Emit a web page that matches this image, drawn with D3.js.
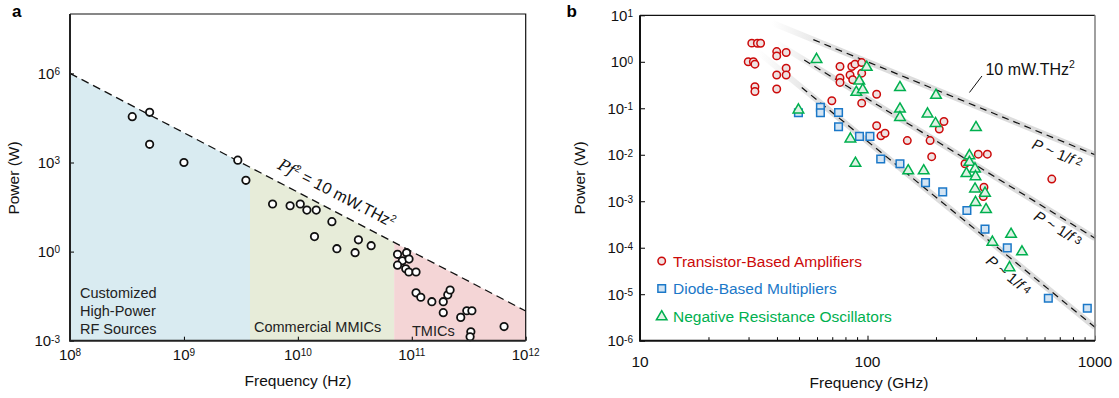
<!DOCTYPE html>
<html>
<head>
<meta charset="utf-8">
<script src="https://cdn.jsdelivr.net/npm/d3@7"></script>
<style>
  body { margin: 0; background: #fff; }
  svg { display: block; font-family: "Liberation Sans", Arial, Helvetica, sans-serif; }
</style>
</head>
<body>
<svg id="chart" width="1119" height="398"></svg>
<script>
// ---------- panel a : frequency (Hz), power (W)
const sourcesA = [
  [3.52e8, 3.5e4], [5.0e8, 4.9e4], [5.0e8, 4.1e3], [1.0e9, 1.0e3], [2.97e9, 1.2e3], [3.5e9, 252],
  [6.0e9, 40], [8.55e9, 35], [1.05e10, 40], [1.2e10, 25], [1.45e10, 25], [1.99e10, 10.2],
  [1.4e10, 3.2], [2.2e10, 1.25], [3.4e10, 2.5], [3.18e10, 0.92], [4.4e10, 1.58],
  [7.5e10, 0.81], [9.0e10, 0.92], [8.26e10, 0.49], [9.46e10, 0.56], [7.5e10, 0.35],
  [8.85e10, 0.265], [9.42e10, 0.206], [1.09e11, 0.206],
  [1.09e11, 0.041], [1.2e11, 0.029], [1.5e11, 0.0206], [1.89e11, 0.0206], [2.07e11, 0.035], [2.17e11, 0.051],
  [1.89e11, 0.0088], [2.69e11, 0.0061], [3.04e11, 0.0102], [3.37e11, 0.0102],
  [3.3e11, 0.002], [3.25e11, 0.00136], [6.46e11, 0.003]
];
const regionEdgesHz = [1e8, 3.8e9, 7e10, 1e12];
const regionColors = ['#d9ebf1', '#e7ecd9', '#f4d5d6'];
const limitA = 1e22;            // P * f^2 = 10 mW.THz^2  (f in Hz)
const xTicksA = [1e8, 1e9, 1e10, 1e11, 1e12];
const yTicksA = [1e6, 1e3, 1e0, 1e-3];

// ---------- panel b : frequency (GHz), power (W)
const amplifiers = [
  [31.0, 2.52], [32.8, 2.5], [33.9, 2.5], [29.9, 1.0], [31.5, 1.0], [32.0, 0.89],
  [32.0, 0.29], [32.0, 0.23], [39.9, 1.66], [39.9, 1.34], [43.9, 1.58], [39.9, 0.52],
  [43.9, 0.73], [43.9, 0.52], [39.9, 0.26], [69.7, 0.145], [75.7, 0.79], [85.3, 0.79],
  [88.1, 0.89], [94.3, 0.96], [75.7, 0.45], [83.8, 0.52], [75.7, 0.36], [86.1, 0.41],
  [94.3, 0.57], [94.3, 0.129], [109.7, 0.2], [109.7, 0.042], [114.6, 0.0255], [119.4, 0.029],
  [149.6, 0.0202], [188.4, 0.0202], [191.5, 0.0091], [216.8, 0.052], [206.8, 0.0356],
  [306.9, 0.0103], [336.3, 0.0103], [268.3, 0.0064], [325, 0.002], [322.9, 0.00126], [645.7, 0.003]
];
const multipliers = [
  [49.7, 0.08], [62.1, 0.105], [62.1, 0.08], [74.6, 0.081], [74.6, 0.04], [92.2, 0.0249],
  [102.5, 0.0249], [114.3, 0.0081], [138.9, 0.0064], [179.9, 0.00252], [214.1, 0.00159],
  [273.5, 0.00063], [328.5, 0.000251], [411.6, 0.0000993], [623.5, 0.0000082], [925, 0.000005]
];
const oscillators = [
  [59.7, 1.17], [49.7, 0.096], [99.2, 0.79], [92.0, 0.4], [89.3, 0.23], [95.3, 0.26],
  [84.1, 0.0228], [88.5, 0.0068], [138.9, 0.29], [200, 0.198], [138.9, 0.1], [138.9, 0.066],
  [183.6, 0.0785], [199, 0.049], [299.8, 0.04], [151, 0.0047], [176.6, 0.0047],
  [280.5, 0.00995], [280.5, 0.00714], [272.2, 0.0041], [296.9, 0.00515], [298.4, 0.00352],
  [296.9, 0.00191], [328.5, 0.00155], [298.4, 0.00098], [331.9, 0.00069],
  [354, 0.000137], [427.6, 0.000202], [477.6, 0.0000848], [421, 0.0000387]
];
// P = coef / f^order, dashes start at dashFrom GHz, grey halo fades in from haloFrom GHz
const refLines = [
  { coef: 1e4, order: 2, dashFrom: 57.8, haloFrom: 38, labelAt: 560, labelOff: 18 },
  { coef: 1.6e5, order: 3, dashFrom: 52.7, haloFrom: 40, labelAt: 580, labelOff: 16 },
  { coef: 1.95e6, order: 4, dashFrom: 51.4, haloFrom: 33, labelAt: 372, labelOff: 19.5 }
];
const seriesNames = ['Transistor-Based Amplifiers', 'Diode-Based Multipliers', 'Negative Resistance Oscillators'];
const seriesStroke = ['#cc0a0a', '#1b78c8', '#00b04f'];
const seriesFill = ['#efe2e2', '#d3e4f3', '#e0f2e5'];
const xTicksB = [10, 100, 1000];
const yTicksB = [1e1, 1e0, 1e-1, 1e-2, 1e-3, 1e-4, 1e-5, 1e-6];

const svg = d3.select('#chart');

const xA = d3.scaleLog().domain([1e8, 1e12]).range([70, 525.7]);
const yA = d3.scaleLog().domain([1e-3, 1e8]).range([340.7, 14]);
const xB = d3.scaleLog().domain([10, 1000]).range([640, 1095]);
const yB = d3.scaleLog().domain([1e-6, 10]).range([340.7, 15.3]);

// "10" with a superscript exponent
function powLabel(g, x, y, exp, anchor) {
  const t = g.append('text').attr('x', x).attr('y', y)
    .attr('text-anchor', anchor).attr('font-size', 15).attr('fill', '#111');
  t.append('tspan').text('10');
  t.append('tspan').attr('font-size', 10).attr('dy', -3.5).text(exp);
  return t;
}

function drawPanelA() {
  const g = svg.append('g');
  const lim = f => Math.min(limitA / (f * f), 1e8);

  // shaded regions under the limit line
  for (let i = 0; i < 3; i++) {
    const f0 = regionEdgesHz[i], f1 = regionEdgesHz[i + 1];
    const pts = [[f0, 1e-3], [f0, lim(f0)], [f1, lim(f1)], [f1, 1e-3]];
    g.append('path')
      .attr('d', d3.line(d => xA(d[0]), d => yA(d[1]))(pts) + 'Z')
      .attr('fill', regionColors[i]);
  }

  g.append('line')
    .attr('x1', xA(1e8)).attr('y1', yA(lim(1e8)))
    .attr('x2', xA(1e12)).attr('y2', yA(lim(1e12)))
    .attr('stroke', '#111').attr('stroke-width', 1.3).attr('stroke-dasharray', '8,5');

  // limit label along the line
  const ang = Math.atan2(yA(lim(1e12)) - yA(lim(1e8)), xA(1e12) - xA(1e8));
  const fl = 5.86e9, off = 11.5;
  const lx = xA(fl) + Math.sin(ang) * off, ly = yA(lim(fl)) - Math.cos(ang) * off;
  const lt = g.append('text')
    .attr('transform', `translate(${lx},${ly}) rotate(${ang * 180 / Math.PI})`)
    .attr('font-size', 16).attr('fill', '#111');
  lt.append('tspan').attr('font-family', '"DejaVu Serif", "Liberation Serif", serif')
    .attr('font-style', 'italic').text('Pf');
  lt.append('tspan').attr('font-size', 10).attr('dy', -6).text('2');
  lt.append('tspan').attr('dy', 6).text(' = 10 mW.THz');
  lt.append('tspan').attr('font-size', 10).attr('dy', -6).text('2');

  // region labels
  const lab = (x, y, s) => g.append('text').attr('x', x).attr('y', y)
    .attr('font-size', 14.5).attr('fill', '#222').text(s);
  lab(80, 298, 'Customized');
  lab(80, 316, 'High-Power');
  lab(80, 334, 'RF Sources');
  lab(254, 332, 'Commercial MMICs');
  lab(412, 335.5, 'TMICs');

  g.append('g').selectAll('circle').data(sourcesA).join('circle')
    .attr('cx', d => xA(d[0])).attr('cy', d => yA(d[1])).attr('r', 3.7)
    .attr('fill', '#fff').attr('stroke', '#111').attr('stroke-width', 1.8);

  // ticks (inward)
  g.append('g').attr('transform', 'translate(0,340.7)')
    .call(d3.axisBottom(xA).tickValues(xTicksA).tickSizeInner(-4).tickSizeOuter(0).tickFormat(''))
    .call(a => a.select('.domain').remove());
  g.append('g').attr('transform', 'translate(70,0)')
    .call(d3.axisLeft(yA).tickValues(yTicksA).tickSizeInner(-4).tickSizeOuter(0).tickFormat(''))
    .call(a => a.select('.domain').remove());

  xTicksA.forEach(v => powLabel(g, xA(v), 359.5, Math.round(Math.log10(v)), 'middle'));
  yTicksA.forEach(v => powLabel(g, 60, yA(v) + 5.3, Math.round(Math.log10(v)), 'end'));

  // frame
  g.append('path').attr('d', 'M70,14H525.7V340.7').attr('fill', 'none').attr('stroke', '#111').attr('stroke-width', 1.2);
  g.append('path').attr('d', 'M70,14V340.7H525.7').attr('fill', 'none').attr('stroke', '#222').attr('stroke-width', 2);

  g.append('text').attr('x', 298).attr('y', 386).attr('text-anchor', 'middle')
    .attr('font-size', 15.5).attr('fill', '#111').text('Frequency (Hz)');
  g.append('text').attr('transform', 'translate(19,178) rotate(-90)').attr('text-anchor', 'middle')
    .attr('font-size', 15.5).attr('fill', '#111').text('Power (W)');
  g.append('text').attr('x', 12).attr('y', 16.5).attr('font-size', 17).attr('font-weight', 'bold').text('a');
}

function marker(sel, kind, color, fill) {
  sel.attr('fill', fill).attr('stroke', color).attr('stroke-width', 1.5);
  if (kind === 0) sel.attr('d', d3.symbol(d3.symbolCircle, 44)());
  if (kind === 1) sel.attr('d', 'M-3.8,-3.8H3.8V3.8H-3.8Z');
  if (kind === 2) sel.attr('d', 'M0,-5.3L5.3,3.8H-5.3Z');
}

function drawPanelB() {
  const g = svg.append('g');
  const defs = svg.append('defs');

  refLines.forEach((r, i) => {
    const P = f => r.coef / Math.pow(f, r.order);
    const grad = defs.append('linearGradient').attr('id', 'halo' + i)
      .attr('gradientUnits', 'userSpaceOnUse')
      .attr('x1', xB(r.haloFrom)).attr('x2', xB(r.dashFrom) + 25).attr('y1', 0).attr('y2', 0);
    grad.append('stop').attr('offset', 0).attr('stop-color', '#dcdcdc').attr('stop-opacity', 0);
    grad.append('stop').attr('offset', 1).attr('stop-color', '#dcdcdc').attr('stop-opacity', 1);
    g.append('line')
      .attr('x1', xB(r.haloFrom)).attr('y1', yB(P(r.haloFrom)))
      .attr('x2', xB(1000)).attr('y2', yB(P(1000)))
      .attr('stroke', `url(#halo${i})`).attr('stroke-width', 6);
    g.append('line')
      .attr('x1', xB(r.dashFrom)).attr('y1', yB(P(r.dashFrom)))
      .attr('x2', xB(1000)).attr('y2', yB(P(1000)))
      .attr('stroke', '#111').attr('stroke-width', 1.2).attr('stroke-dasharray', '7,5');

    const ang = Math.atan2(yB(P(1000)) - yB(P(100)), xB(1000) - xB(100));
    const lx = xB(r.labelAt) - Math.sin(ang) * r.labelOff;
    const ly = yB(P(r.labelAt)) + Math.cos(ang) * r.labelOff;
    const t = g.append('text')
      .attr('transform', `translate(${lx},${ly}) rotate(${ang * 180 / Math.PI})`)
      .attr('font-size', 15).attr('fill', '#111');
    t.append('tspan').attr('font-style', 'italic').text('P');
    t.append('tspan').text(' ~ 1/');
    t.append('tspan').attr('font-style', 'italic').text('f');
    t.append('tspan').attr('font-size', 11).attr('dx', 3).attr('dy', -2).text(r.order);
  });

  // "10 mW.THz2" callout
  const ct = g.append('text').attr('x', xB(330)).attr('y', yB(0.52))
    .attr('font-size', 16).attr('fill', '#111');
  ct.append('tspan').text('10 mW.THz');
  ct.append('tspan').attr('font-size', 10.5).attr('dy', -7).text('2');
  g.append('line')
    .attr('x1', xB(330) - 3.5).attr('y1', yB(0.52) + 1)
    .attr('x2', xB(330) - 16).attr('y2', yB(0.52) + 17.5)
    .attr('stroke', '#111').attr('stroke-width', 1);

  [amplifiers, multipliers, oscillators].forEach((data, k) => {
    g.append('g').selectAll('path').data(data).join('path')
      .attr('transform', d => `translate(${xB(d[0])},${yB(d[1])})`)
      .call(marker, k, seriesStroke[k], seriesFill[k]);
  });

  // legend
  seriesNames.forEach((name, k) => {
    const cy = 261 + k * 27.5;
    g.append('path').attr('transform', `translate(661.7,${cy})`).call(marker, k, seriesStroke[k], seriesFill[k]);
    g.append('text').attr('x', 673).attr('y', cy + 5.5).attr('font-size', 15.5)
      .attr('fill', seriesStroke[k]).text(name);
  });

  // ticks (inward)
  const minor = d3.range(20, 100, 10).concat(d3.range(200, 1000, 100));
  g.append('g').attr('transform', 'translate(0,340.7)')
    .call(d3.axisBottom(xB).tickValues(xTicksB).tickSizeInner(-5).tickSizeOuter(0).tickFormat(''))
    .call(a => a.select('.domain').remove());
  g.append('g').attr('transform', 'translate(0,340.7)')
    .call(d3.axisBottom(xB).tickValues(minor).tickSizeInner(-3.5).tickSizeOuter(0).tickFormat(''))
    .call(a => a.select('.domain').remove());
  g.append('g').attr('transform', 'translate(640,0)')
    .call(d3.axisLeft(yB).tickValues(yTicksB).tickSizeInner(-5).tickSizeOuter(0).tickFormat(''))
    .call(a => a.select('.domain').remove());

  xTicksB.forEach(v => g.append('text').attr('x', xB(v)).attr('y', 366.7).attr('text-anchor', 'middle')
    .attr('font-size', 15.5).attr('fill', '#111').text(v));
  yTicksB.forEach(v => powLabel(g, 633, yB(v) + 5.3, Math.round(Math.log10(v)), 'end'));

  // frame
  g.append('line').attr('x1', 640).attr('x2', 1095).attr('y1', 15.3).attr('y2', 15.3).attr('stroke', '#111').attr('stroke-width', 1.2);
  g.append('line').attr('x1', 1095).attr('x2', 1095).attr('y1', 15.3).attr('y2', 340.7).attr('stroke', '#888').attr('stroke-width', 1.6);
  g.append('path').attr('d', 'M640,15.3V340.7H1095').attr('fill', 'none').attr('stroke', '#111').attr('stroke-width', 2);

  g.append('text').attr('x', 869).attr('y', 387.5).attr('text-anchor', 'middle')
    .attr('font-size', 15.5).attr('fill', '#111').text('Frequency (GHz)');
  g.append('text').attr('transform', 'translate(585,178) rotate(-90)').attr('text-anchor', 'middle')
    .attr('font-size', 15.5).attr('fill', '#111').text('Power (W)');
  g.append('text').attr('x', 566.5).attr('y', 17).attr('font-size', 17).attr('font-weight', 'bold').text('b');
}

drawPanelA();
drawPanelB();
</script>
</body>
</html>
